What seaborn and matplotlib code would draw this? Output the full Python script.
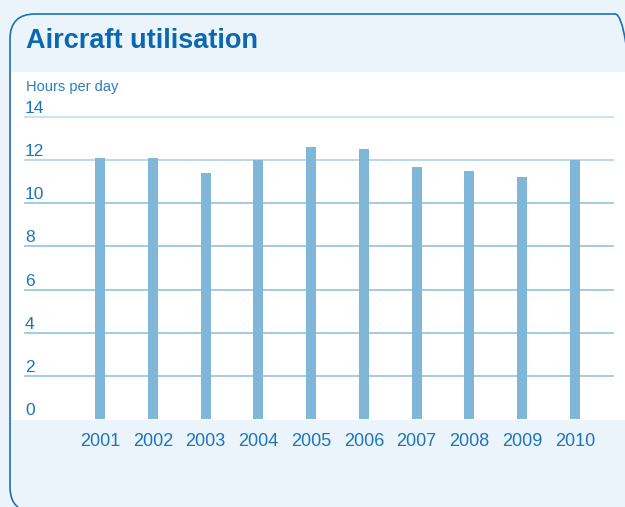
import matplotlib
matplotlib.use("Agg")
import matplotlib.pyplot as plt
import matplotlib.transforms as mtransforms
from matplotlib.patches import FancyBboxPatch, Rectangle
import seaborn as sns
import pandas as pd

years = ["2001", "2002", "2003", "2004", "2005", "2006", "2007", "2008", "2009", "2010"]
hours = [12.1, 12.1, 11.4, 12.0, 12.6, 12.5, 11.7, 11.5, 11.2, 12.0]
y_ticks = [0, 2, 4, 6, 8, 10, 12, 14]
title = "Aircraft utilisation"
unit_label = "Hours per day"

plt.rcParams["font.family"] = ["Liberation Sans", "DejaVu Sans"]

BG = "#ecf4fb"
TXT = "#1b75bb"
TITLE = "#0a68b1"
BAR = "#80b6d8"
BORDER = "#1a70b4"

W, H = 625, 507
fig = plt.figure(figsize=(W / 100, H / 100), dpi=100, facecolor=BG)

# white plot band
band = Rectangle((11, H - 420), W - 11, 420 - 72, transform=mtransforms.IdentityTransform(),
                 facecolor="white", edgecolor="none", zorder=-3)
fig.patches.append(band)

# rounded frame
frame = FancyBboxPatch((10, H - 512), 630, 498, boxstyle="round,pad=0,rounding_size=25",
                       transform=mtransforms.IdentityTransform(), facecolor="none",
                       edgecolor=BORDER, linewidth=1.2, zorder=-2)
fig.patches.append(frame)

ax = fig.add_axes([25 / W, 1 - 419 / H, 588 / W, 302 / H])
ax.patch.set_visible(False)

df = pd.DataFrame({"year": years, "hours": hours})
sns.barplot(data=df, x="year", y="hours", color=BAR, saturation=1, width=0.19, ax=ax)

ax.set_ylim(0, 14)
ax.set_xlim(-1.421, 9.72)
ax.set_yticks(y_ticks)
ax.set_yticklabels([])
ax.yaxis.grid(True)
ax.set_axisbelow(True)
grid_cols = {14: "#c6dfee", 12: "#b3d5ea"}
for v, gl in zip(y_ticks, ax.get_ygridlines()):
    if v == 0:
        gl.set_visible(False)
    gl.set_color(grid_cols.get(v, "#9dc7e0"))
    gl.set_linewidth(1.3)
    gl.set_clip_on(False)

for s in ax.spines.values():
    s.set_visible(False)
ax.tick_params(axis="both", length=0)
ax.tick_params(axis="x", pad=10, labelsize=13, labelcolor=TXT)
ax.set_xlabel("")
ax.set_ylabel("")

trans = mtransforms.blended_transform_factory(ax.transAxes, ax.transData) + \
    mtransforms.ScaledTranslation(0, 4 / 100, fig.dpi_scale_trans)
for v in y_ticks:
    ax.text(0, v, str(v), transform=trans, ha="left", va="baseline",
            fontsize=12.5, color=TXT)

fig.text(26 / W, 1 - 48 / H, title, ha="left", va="baseline", fontsize=19.5,
         fontweight="bold", color=TITLE)
fig.text(26 / W, 1 - 91 / H, unit_label, ha="left", va="baseline", fontsize=10.5,
         color="#2a7fc1")

fig.savefig("out.png", dpi=100, facecolor=BG)
